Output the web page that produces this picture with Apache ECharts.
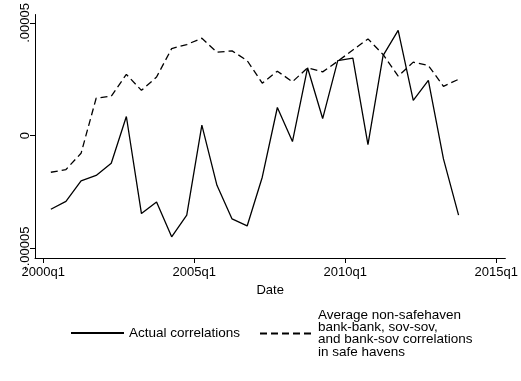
<!DOCTYPE html>
<html>
<head>
<meta charset="utf-8">
<script src="https://cdn.jsdelivr.net/npm/echarts@6/dist/echarts.min.js"></script>
<style>
  html, body { margin: 0; padding: 0; background: #fff; }
  #chart { width: 521px; height: 381px; }
</style>
</head>
<body>
<div id="chart"></div>
<script>
// Semiannual observations, 2000q2 .. 2013q4 (quarter index counted from 2000q1 = 0)
const quarters = [1, 3, 5, 7, 9, 11, 13, 15, 17, 19, 21, 23, 25, 27,
                  29, 31, 33, 35, 37, 39, 41, 43, 45, 47, 49, 51, 53, 55];

// Values in units of 1e-5
const actualCorr = [-3.26, -2.91, -2.00, -1.76, -1.22, 0.85, -3.45, -2.94, -4.48, -3.52,
                    0.47, -2.20, -3.69, -4.00, -1.84, 1.25, -0.26, 3.01, 0.76, 3.33,
                    3.44, -0.40, 3.55, 4.67, 1.57, 2.45, -1.03, -3.52];
const avgNonSafehaven = [-1.62, -1.50, -0.78, 1.66, 1.75, 2.72, 2.01, 2.60, 3.86, 4.04,
                         4.32, 3.70, 3.76, 3.33, 2.33, 2.86, 2.39, 3.01, 2.83, 3.30,
                         3.80, 4.29, 3.60, 2.64, 3.26, 3.11, 2.19, 2.50];

const xTicks = [0, 20, 40, 60];
const yTicks = [-0.00005, 0, 0.00005];
const yTickLabels = ['-.00005', '0', '.00005'];

const seriesNames = [
  'Actual correlations',
  'Average non-safehaven\nbank-bank, sov-sov,\nand bank-sov correlations\nin safe havens'
];

const scale = 1e-5;
const toPairs = vals => vals.map((v, i) => [quarters[i], v * scale]);

function quarterLabel(q) {
  const year = 2000 + Math.floor(q / 4);
  return year + 'q' + (q % 4 + 1);
}

const FONT = 'Liberation Sans, Arial, sans-serif';
const chart = echarts.init(document.getElementById('chart'), null, { renderer: 'canvas' });

chart.setOption({
  animation: false,
  backgroundColor: '#fff',
  textStyle: { fontFamily: FONT, color: '#000' },
  grid: { left: 35, right: 11, top: 13, bottom: 123, containLabel: false },
  xAxis: {
    type: 'value',
    min: -1.1,
    max: 61.2,
    name: 'Date',
    nameLocation: 'middle',
    nameGap: 22,
    nameTextStyle: { fontFamily: FONT, fontSize: 13, color: '#000' },
    axisLine: { show: true, onZero: false, lineStyle: { color: '#000', width: 1 } },
    axisTick: { show: true, length: 5, customValues: xTicks, lineStyle: { color: '#000' } },
    axisLabel: {
      customValues: xTicks,
      formatter: v => quarterLabel(v),
      fontFamily: FONT, fontSize: 13, color: '#000', margin: 8
    },
    splitLine: { show: false }
  },
  yAxis: {
    type: 'value',
    min: -0.0000542,
    max: 0.0000537,
    axisLine: { show: true, onZero: false, lineStyle: { color: '#000', width: 1 } },
    axisTick: { show: true, length: 5, customValues: yTicks, lineStyle: { color: '#000' } },
    axisLabel: {
      customValues: yTicks,
      rotate: 90,
      formatter: v => {
        const idx = yTicks.findIndex(t => Math.abs(t - v) < 1e-9);
        return idx >= 0 ? yTickLabels[idx] : '';
      },
      fontFamily: FONT, fontSize: 13, color: '#000', margin: 3
    },
    splitLine: { show: false }
  },
  legend: [
    {
      data: [seriesNames[0]],
      left: 70, top: 326, padding: 0,
      itemWidth: 53, itemHeight: 14,
      itemStyle: { opacity: 0 },
      textStyle: { fontFamily: FONT, fontSize: 13.5, color: '#000', lineHeight: 14 }
    },
    {
      data: [seriesNames[1]],
      left: 259, top: 308, padding: 0,
      itemWidth: 53, itemHeight: 14,
      itemStyle: { opacity: 0 },
      textStyle: { fontFamily: FONT, fontSize: 13.5, color: '#000', lineHeight: 12.3 }
    }
  ],
  series: [
    {
      name: seriesNames[0],
      type: 'line',
      data: toPairs(actualCorr),
      symbol: 'none',
      lineStyle: { color: '#000', width: 1.3, type: 'solid' },
      itemStyle: { color: '#000' }
    },
    {
      name: seriesNames[1],
      type: 'line',
      data: toPairs(avgNonSafehaven),
      symbol: 'none',
      lineStyle: { color: '#000', width: 1.3, type: [7, 4] },
      itemStyle: { color: '#000' }
    }
  ]
});
</script>
</body>
</html>
